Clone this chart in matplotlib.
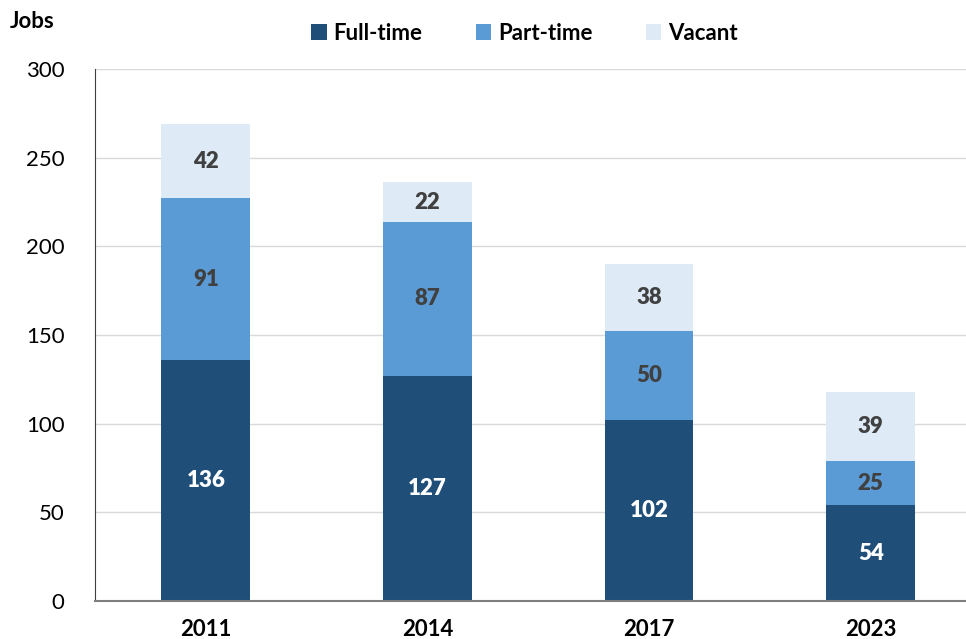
import matplotlib
matplotlib.use('Agg')
import matplotlib.pyplot as plt
import numpy as np

plt.rcParams['font.family'] = ['Lato', 'DejaVu Sans']

years = ['2011', '2014', '2017', '2023']
full_time = [136, 127, 102, 54]
part_time = [91, 87, 50, 25]
vacant = [42, 22, 38, 39]

colors = ['#1F4E79', '#5B9BD5', '#DEEBF7']
label_colors = ['white', '#404040', '#404040']

fig = plt.figure(figsize=(9.66, 6.39), dpi=100)
ax = fig.add_axes([0.0983, 0.0595, 0.9017, 0.8325])

x = np.arange(len(years))
bottom = np.zeros(len(years))
series = [('Full-time', full_time), ('Part-time', part_time), ('Vacant', vacant)]
for (name, vals), c, lc in zip(series, colors, label_colors):
    vals = np.array(vals)
    ax.bar(x, vals, 0.4, bottom=bottom, color=c, label=name, zorder=2)
    for xi, b, v in zip(x, bottom, vals):
        ax.text(xi, b + v / 2, str(v), ha='center', va='center', color=lc,
                fontsize=16, fontweight='heavy', zorder=3)
    bottom += vals

ax.set_ylim(0, 300)
ax.set_xlim(-0.5, 3.43)
ax.set_yticks(range(0, 301, 50))
ax.set_xticks(x)
ax.set_xticklabels(years, fontsize=16, fontweight='bold')
ax.tick_params(axis='y', labelsize=16, length=0, pad=22)
ax.tick_params(axis='x', length=0, pad=13)
ax.grid(axis='y', color='#D9D9D9', linewidth=1, zorder=0)
for s in ['top', 'right']:
    ax.spines[s].set_visible(False)
ax.spines['left'].set_color('#404040')
ax.spines['bottom'].set_color('#7F7F7F')
ax.spines['bottom'].set_linewidth(1.5)

fig.text(0.01, 0.967, 'Jobs', fontsize=16, fontweight='bold', va='center')
fig.legend(loc='center', bbox_to_anchor=(0.543, 0.948), ncol=3, frameon=False,
           prop={'size': 16, 'weight': 'bold'}, handlelength=0.7, handleheight=0.7,
           columnspacing=2.4, handletextpad=0.3)

plt.savefig('out.png', dpi=100)
